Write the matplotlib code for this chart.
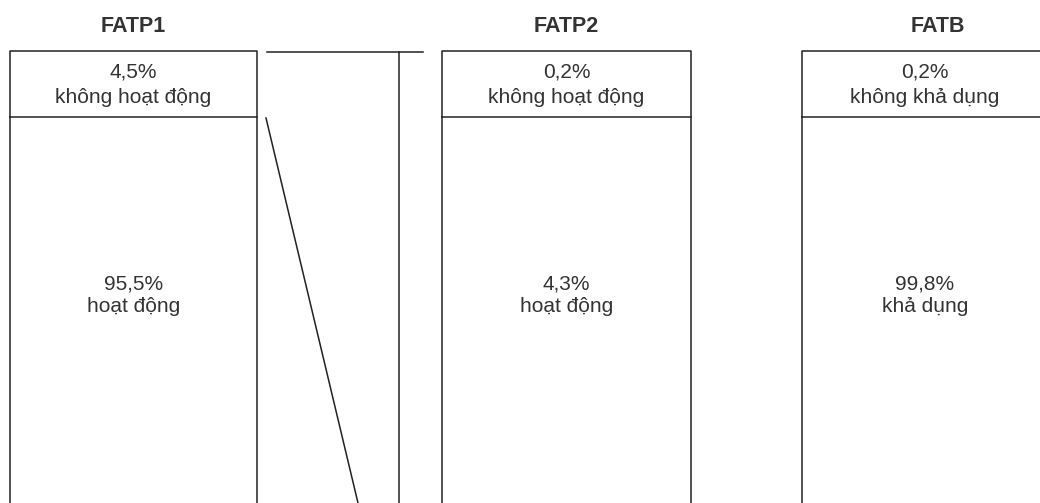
import matplotlib
matplotlib.use("Agg")
import matplotlib.pyplot as plt

plt.rcParams["font.family"] = ["Liberation Sans", "DejaVu Sans"]

# -----------------------------------------------------------------------------
# Dados
# -----------------------------------------------------------------------------
nomes = ["FATP1", "FATP2", "FATB"]
pct_topo = ["4,5%", "0,2%", "0,2%"]
rotulo_topo = ["không hoạt động", "không hoạt động", "không khả dụng"]
pct_base = ["95,5%", "4,3%", "99,8%"]
rotulo_base = ["hoạt động", "hoạt động", "khả dụng"]

# -----------------------------------------------------------------------------
# Layout (pixels)
# -----------------------------------------------------------------------------
W, H = 1040, 503
caixas_x = [(10, 257), (442, 691), (802, 1050)]
y_topo = 51
y_div = 117
cor = "#222222"
cor_txt = "#333333"
lw = 1.1

fig = plt.figure(figsize=(W / 100, H / 100), dpi=100)
ax = fig.add_axes([0, 0, 1, 1])
ax.set_xlim(0, W)
ax.set_ylim(H, 0)
ax.axis("off")

for i, (x0, x1) in enumerate(caixas_x):
    ax.plot([x0, x0, x1, x1], [H + 5, y_topo, y_topo, H + 5], color=cor, lw=lw)
    ax.plot([x0, x1], [y_div, y_div], color=cor, lw=lw)
    xc = (x0 + x1) / 2 if i < 2 else 925
    xt = xc if i < 2 else 938
    ax.text(xt, 26, nomes[i], ha="center", va="center",
            fontsize=15.5, fontweight="bold", color=cor_txt)
    ax.text(xc, 72, pct_topo[i], ha="center", va="center",
            fontsize=15, color=cor_txt)
    ax.text(xc, 97, rotulo_topo[i], ha="center", va="center",
            fontsize=15, color=cor_txt)
    ax.text(xc, 284, pct_base[i], ha="center", va="center",
            fontsize=15, color=cor_txt)
    ax.text(xc, 307, rotulo_base[i], ha="center", va="center",
            fontsize=15, color=cor_txt)

# ligação entre FATP1 e FATP2
ax.plot([267, 423], [52, 52], color=cor, lw=lw)
ax.plot([399, 399], [52, H + 5], color=cor, lw=lw)
ax.plot([266, 358], [118, H], color=cor, lw=lw)

fig.savefig("out.png", dpi=100, facecolor="white")
